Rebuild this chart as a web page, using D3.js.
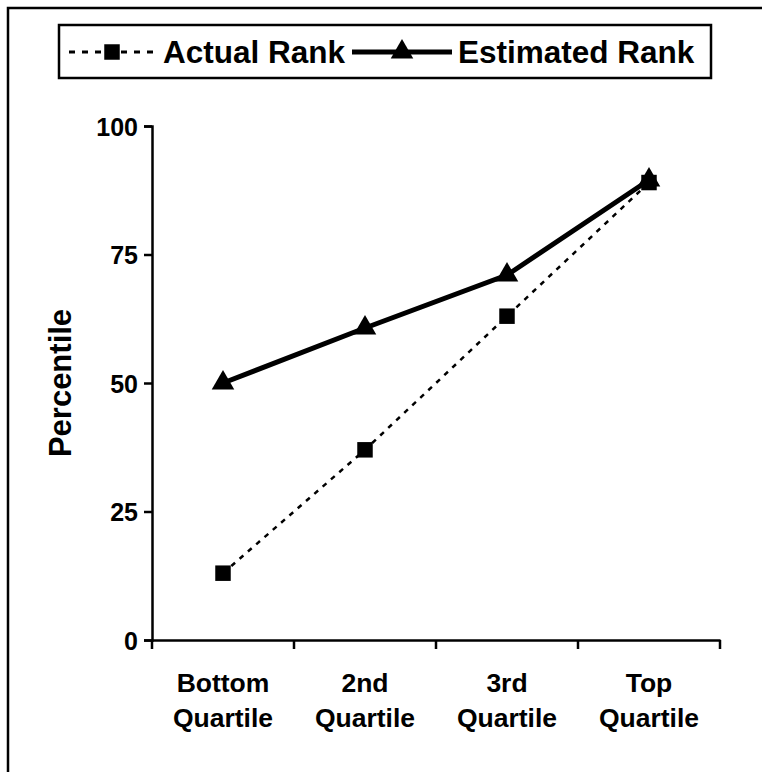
<!DOCTYPE html>
<html><head><meta charset="utf-8">
<script src="https://cdn.jsdelivr.net/npm/d3@7"></script>
<style>body{margin:0;background:#fff}svg{display:block}text{font-family:"Liberation Sans",Arial,sans-serif;font-weight:bold;fill:#000}</style>
</head><body>
<script>
const categories = [["Bottom","Quartile"],["2nd","Quartile"],["3rd","Quartile"],["Top","Quartile"]];
const actualRank = [13, 37, 63, 89];
const estimatedRank = [50, 60.7, 71, 89.5];
const yTicks = [0, 25, 50, 75, 100];
const seriesNames = ["Actual Rank", "Estimated Rank"];

const W = 762, H = 772;
const svg = d3.select("body").append("svg").attr("width", W).attr("height", H);

// outer frame
svg.append("path").attr("d", `M8,${H+5}V8H${W+5}`).attr("fill","none").attr("stroke","#000").attr("stroke-width",2.5);

const x = d3.scaleBand().domain(d3.range(categories.length)).range([152, 720]);
const y = d3.scaleLinear().domain([0, 100]).range([640, 126]);

// y axis
const ya = svg.append("g").attr("transform","translate(152,0)")
  .call(d3.axisLeft(y).tickValues(yTicks).tickSize(8).tickPadding(6));
ya.select(".domain").attr("stroke-width",2.5);
ya.selectAll(".tick line").attr("stroke-width",2.5);
ya.selectAll("text").style("font-size","25px").attr("dy","0.36em");

// x axis
const xa = svg.append("g").attr("transform","translate(0,640)")
  .call(d3.axisBottom(x).tickSize(0).tickFormat(""));
xa.select(".domain").attr("stroke-width",2.5);
const bounds = d3.range(categories.length + 1).map(i => 152 + i * x.step());
xa.selectAll(".bt").data(bounds).enter().append("line").attr("class","bt")
  .attr("x1", d => d).attr("x2", d => d).attr("y1", 0).attr("y2", 9)
  .attr("stroke","#000").attr("stroke-width",2.5);
const lbl = svg.append("g");
categories.forEach((c, i) => {
  const t = lbl.append("text").attr("text-anchor","middle").style("font-size","26.5px")
    .attr("x", x(i) + x.bandwidth()/2);
  t.append("tspan").attr("x", x(i) + x.bandwidth()/2).attr("y", 692).text(c[0]);
  t.append("tspan").attr("x", x(i) + x.bandwidth()/2).attr("y", 727).text(c[1]);
});

// y title
svg.append("text").attr("transform","translate(71,383) rotate(-90)").attr("text-anchor","middle")
  .style("font-size","31px").text("Percentile");

const cx = i => x(i) + x.bandwidth()/2;
const line = d3.line().x((d,i) => cx(i)).y(d => y(d));

svg.append("path").datum(actualRank).attr("d", line).attr("fill","none").attr("stroke","#000")
  .attr("stroke-width",2.5).attr("stroke-dasharray","5,6");
svg.append("path").datum(estimatedRank).attr("d", line).attr("fill","none").attr("stroke","#000")
  .attr("stroke-width",5);

const sq = d3.symbol().type(d3.symbolSquare).size(240);
const tri = d3.symbol().type(d3.symbolTriangle).size(220);
svg.selectAll(".tri").data(estimatedRank).enter().append("path")
  .attr("transform",(d,i)=>`translate(${cx(i)},${y(d)})`).attr("d", tri).attr("fill","#000");
svg.selectAll(".sq").data(actualRank).enter().append("path")
  .attr("transform",(d,i)=>`translate(${cx(i)},${y(d)})`).attr("d", sq).attr("fill","#000");

// legend
const lg = svg.append("g");
lg.append("rect").attr("x",59).attr("y",25).attr("width",652).attr("height",53)
  .attr("fill","#fff").attr("stroke","#000").attr("stroke-width",2.5);
lg.append("line").attr("x1",69).attr("x2",156).attr("y1",52).attr("y2",52)
  .attr("stroke","#000").attr("stroke-width",3).attr("stroke-dasharray","6,7");
lg.append("path").attr("transform","translate(112,52)").attr("d",sq).attr("fill","#000");
lg.append("text").attr("x",163).attr("y",52).attr("dy","0.36em").style("font-size","31.5px").text(seriesNames[0]);
lg.append("line").attr("x1",352).attr("x2",452).attr("y1",52).attr("y2",52)
  .attr("stroke","#000").attr("stroke-width",5);
lg.append("path").attr("transform","translate(402,52)").attr("d",tri).attr("fill","#000");
lg.append("text").attr("x",458).attr("y",52).attr("dy","0.36em").style("font-size","31.5px").text(seriesNames[1]);
</script>
</body></html>
